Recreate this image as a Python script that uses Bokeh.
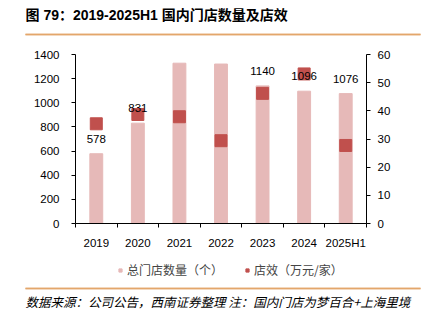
from bokeh.plotting import figure
from bokeh.models import (ColumnDataSource, Range1d, LinearAxis, FixedTicker, LabelSet,
                          Legend, LegendItem)
from bokeh.layouts import column
from bokeh.core.properties import value
from bokeh.embed import file_html
from bokeh.resources import INLINE

years = ["2019", "2020", "2021", "2022", "2023", "2024", "2025H1"]
stores = [578, 831, 1328, 1321, 1140, 1096, 1076]
efficiency = [35.4, 38.7, 37.9, 29.4, 46.2, 53.1, 27.7]
title_text = "图 79：2019-2025H1 国内门店数量及店效"
legend_labels = ["总门店数量（个）", "店效（万元/家）"]
note_text = "数据来源：公司公告，西南证券整理 注：国内门店为梦百合+上海里境"

BAR = "#E6B9B8"
SQ = "#C0504D"
ORANGE = "#E3A66B"
NUM_FONT = "Liberation Sans, Arial, sans-serif"
CJK = "Noto Sans CJK SC"
W = 428


def blank(height):
    f = figure(width=W, height=height, output_backend="svg", toolbar_location=None,
               x_range=Range1d(0, W), y_range=Range1d(0, height),
               x_axis_type=None, y_axis_type=None, outline_line_color=None,
               min_border=0, min_border_left=0, min_border_right=0,
               min_border_top=0, min_border_bottom=0, frame_align=False)
    f.grid.visible = False
    return f


# ---------- header (canvas y 0..40) ----------
HH = 40
head = blank(HH)
head.text(x=[25], y=[HH - 14], text=[title_text],
          text_font=value("Liberation Sans, Noto Sans CJK SC"),
          text_font_style="bold", text_font_size="14px", text_baseline="middle",
          text_color="#000000")
head.quad(left=[25], right=[420], top=[HH - 33.2], bottom=[HH - 34.8],
          fill_color=ORANGE, line_color=None)
head.segment(x0=[25], y0=[HH - 34], x1=[420], y1=[HH - 34], line_color=ORANGE, line_width=1.5)

# ---------- main chart ----------
xs = [i + 0.5 for i in range(len(years))]
src = ColumnDataSource(dict(x=xs, stores=stores, eff=efficiency,
                            lab=[str(s) for s in stores]))

p = figure(width=W, height=222, output_backend="svg", toolbar_location=None,
           x_range=Range1d(0, len(years)), y_range=Range1d(0, 1400),
           min_border_left=75, min_border_right=62, min_border_top=14,
           min_border_bottom=39, outline_line_color=None, frame_align=False)
p.extra_y_ranges = {"r": Range1d(0, 60)}
p.grid.visible = False

bars = p.vbar(x="x", top="stores", width=0.31, color=BAR, source=src)
sq = p.scatter(x="x", y="eff", marker="square", size=12, color=SQ,
               y_range_name="r", source=src)

p.add_layout(LabelSet(x="x", y="stores", text="lab", source=src, y_offset=15,
                      text_align="center", text_baseline="middle",
                      text_font=value(NUM_FONT), text_font_size="11.5px",
                      text_color="#000000"))


def style_axis(ax):
    ax.axis_line_color = "#000000"
    ax.major_tick_line_color = "#000000"
    ax.major_tick_out = 4
    ax.major_tick_in = 0
    ax.minor_tick_line_color = None
    ax.major_label_text_font = NUM_FONT
    ax.major_label_text_font_size = "11.5px"
    ax.major_label_text_color = "#000000"


xa = p.xaxis[0]
xa.ticker = FixedTicker(ticks=xs, minor_ticks=list(range(len(years) + 1)))
xa.major_label_overrides = {x: y for x, y in zip(xs, years)}
style_axis(xa)
xa.major_tick_line_color = None
xa.minor_tick_line_color = "#000000"
xa.minor_tick_out = 4
xa.minor_tick_in = 0
xa.major_label_standoff = 9

ya = p.yaxis[0]
ya.ticker = FixedTicker(ticks=list(range(0, 1401, 200)))
style_axis(ya)
ya.major_label_standoff = 12

ra = LinearAxis(y_range_name="r", ticker=FixedTicker(ticks=list(range(0, 61, 10))))
style_axis(ra)
ra.major_label_standoff = 7
p.add_layout(ra, "right")

# ---------- footer (canvas y 262..322) ----------
FH = 60
FB = 322
foot = blank(FH)
d1 = foot.scatter(x=[-1000], y=[-1000], marker="square", size=7, color=BAR)
d2 = foot.scatter(x=[-1000], y=[-1000], marker="square", size=8, color=SQ)
legend = Legend(items=[LegendItem(label=legend_labels[0], renderers=[d1], index=0),
                       LegendItem(label=legend_labels[1], renderers=[d2], index=0)],
                orientation="horizontal", location=(116, 44),
                label_text_font=CJK, label_text_font_size="12px",
                glyph_width=8, glyph_height=8, label_height=12, label_width=10,
                spacing=20, label_standoff=3, padding=0, margin=0,
                background_fill_alpha=0, border_line_color=None)
foot.add_layout(legend, "center")
foot.quad(left=[25], right=[420], top=[FB - 287.2], bottom=[FB - 288.8],
          fill_color=ORANGE, line_color=None)
foot.segment(x0=[25], y0=[FB - 288], x1=[420], y1=[FB - 288], line_color=ORANGE, line_width=1.5)
foot.text(x=[25], y=[FB - 301], text=[note_text], text_font=value(CJK),
          text_font_style="italic", text_font_size="12.5px", text_baseline="middle",
          text_color="#000000")

layout = column(head, p, foot, spacing=0)
open("out.html", "w").write(file_html(layout, INLINE))
